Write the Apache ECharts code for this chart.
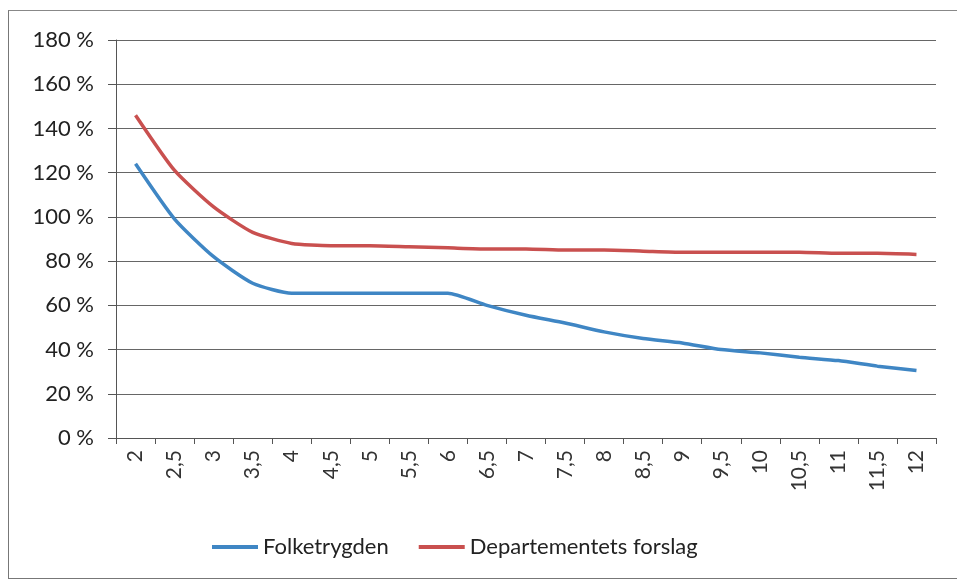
<!DOCTYPE html>
<html>
<head>
<meta charset="utf-8">
<script src="https://cdn.jsdelivr.net/npm/echarts@6/dist/echarts.min.js"></script>
<style>
  html, body { margin: 0; padding: 0; background: #fff; }
  #frame {
    position: absolute; left: 8px; top: 10px; width: 960px; height: 567px;
    border-left: 1px solid #777; border-top: 1px solid #888; border-bottom: 1px solid #777;
  }
  #chart { position: absolute; left: 0; top: 0; width: 957px; height: 581px; }
</style>
</head>
<body>
<div id="frame"></div>
<div id="chart"></div>
<script>
// kategorier (x-akse)
const categories = ['2', '2,5', '3', '3,5', '4', '4,5', '5', '5,5', '6', '6,5', '7',
  '7,5', '8', '8,5', '9', '9,5', '10', '10,5', '11', '11,5', '12']

// seriedata i prosent
const folketrygden = [124, 99, 82, 70, 65.5, 65.5, 65.5, 65.5, 65.5, 60, 55.5,
  52, 48, 45, 43, 40, 38.5, 36.5, 35, 32.5, 30.5]
const departementet = [146, 121, 104.5, 93, 88, 87, 87, 86.5, 86, 85.5, 85.5,
  85, 85, 84.5, 84, 84, 84, 84, 83.5, 83.5, 83]

const seriesNames = ['Folketrygden', 'Departementets forslag']
const colors = ['#3f86c4', '#c9504f']

const fontFamily = 'Lato, "Open Sans", sans-serif'

const chart = echarts.init(document.getElementById('chart'))

chart.setOption({
  animation: false,
  textStyle: { fontFamily },
  color: colors,
  grid: { left: 116, right: 21, top: 40, bottom: 143 },
  legend: {
    bottom: 18,
    left: 207,
    itemWidth: 46,
    itemHeight: 4,
    itemGap: 30,
    icon: 'rect',
    textStyle: { fontSize: 22, color: '#222', fontFamily },
    data: seriesNames
  },
  xAxis: {
    type: 'category',
    data: categories,
    boundaryGap: true,
    axisLine: { lineStyle: { color: '#555', width: 1 } },
    axisTick: { show: true, length: 6, lineStyle: { color: '#555' } },
    axisLabel: { rotate: 90, fontSize: 21, color: '#333', margin: 12, interval: 0 }
  },
  yAxis: {
    type: 'value',
    min: 0,
    max: 180,
    interval: 20,
    axisLine: { show: true, lineStyle: { color: '#555' } },
    axisTick: { show: true, length: 8, lineStyle: { color: '#555' } },
    axisLabel: { fontSize: 22, color: '#222', margin: 22, formatter: v => v + ' %' },
    splitLine: { lineStyle: { color: '#666', width: 1 } }
  },
  series: [
    {
      name: seriesNames[0],
      type: 'line',
      data: folketrygden,
      symbol: 'none',
      smooth: 0.2,
      lineStyle: { width: 3.5 }
    },
    {
      name: seriesNames[1],
      type: 'line',
      data: departementet,
      symbol: 'none',
      smooth: 0.2,
      lineStyle: { width: 3.5 }
    }
  ]
})
</script>
</body>
</html>
